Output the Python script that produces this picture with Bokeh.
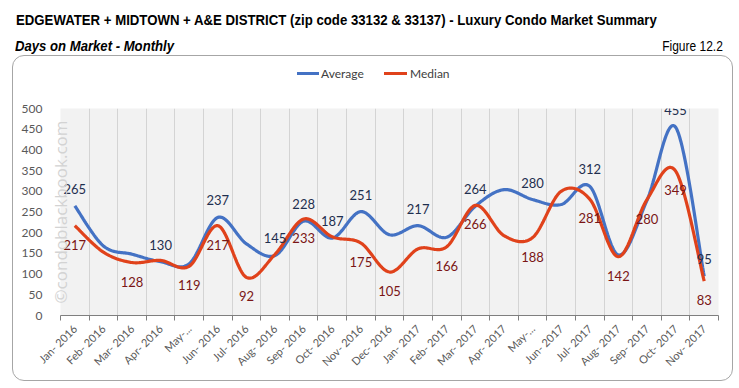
import numpy as np
from math import pi
from bokeh.plotting import figure
from bokeh.layouts import column
from bokeh.models import ColumnDataSource, FixedTicker, Range1d, Div
from bokeh.embed import file_html
from bokeh.resources import INLINE
from bokeh.core.properties import value

# ---------------- data ----------------
months = ["Jan- 2016", "Feb- 2016", "Mar- 2016", "Apr- 2016", "May-...", "Jun- 2016",
          "Jul- 2016", "Aug- 2016", "Sep- 2016", "Oct- 2016", "Nov- 2016", "Dec- 2016",
          "Jan- 2017", "Feb- 2017", "Mar- 2017", "Apr- 2017", "May-...", "Jun- 2017",
          "Jul- 2017", "Aug- 2017", "Sep- 2017", "Oct- 2017", "Nov- 2017"]
average = [265, 168, 148, 130, 125, 237, 173, 145, 228, 187, 251, 195,
           217, 189, 264, 304, 280, 268, 312, 146, 278, 455, 95]
median = [217, 153, 128, 133, 119, 217, 92, 148, 233, 190, 175, 105,
          161, 166, 266, 193, 188, 300, 281, 142, 280, 349, 83]
average_labeled = [0, 3, 5, 7, 8, 9, 10, 12, 14, 16, 18, 21, 22]
median_labeled = [0, 2, 4, 5, 6, 8, 10, 11, 13, 14, 16, 18, 19, 20, 21, 22]
y_ticks = [0, 50, 100, 150, 200, 250, 300, 350, 400, 450, 500]
series_names = ["Average", "Median"]

title = "EDGEWATER + MIDTOWN + A&amp;E DISTRICT (zip code 33132 &amp; 33137) - Luxury Condo Market Summary"
subtitle = "Days on Market - Monthly"
figure_no = "Figure 12.2"
watermark = "\u00a9condoblackbook.com"

BLUE = "#4472C4"
RED = "#E0421B"


def smooth(ys, n=24):
    """Excel-like smoothed line (cubic Bezier through every point)."""
    P = np.column_stack([np.arange(len(ys), dtype=float), np.array(ys, dtype=float)])
    xs, yv = [], []
    for i in range(len(P) - 1):
        p0 = P[i - 1] if i > 0 else P[i]
        p1, p2 = P[i], P[i + 1]
        p3 = P[i + 2] if i + 2 < len(P) else P[i + 1]
        c1 = p1 + (p2 - p0) / 6.0
        c2 = p2 - (p3 - p1) / 6.0
        t = np.linspace(0, 1, n, endpoint=(i == len(P) - 2))[:, None]
        b = ((1 - t) ** 3) * p1 + 3 * ((1 - t) ** 2) * t * c1 + 3 * (1 - t) * t ** 2 * c2 + t ** 3 * p2
        xs.extend(b[:, 0]); yv.extend(b[:, 1])
    return xs, yv


narrow = "font-family:'Liberation Sans',Arial,sans-serif;white-space:nowrap;position:absolute;"
header = Div(width=739, height=55, margin=0, text=f"""
<div style="position:relative;width:739px;height:55px;color:#000;">
  <div style="{narrow}left:16px;top:11px;font-size:15px;font-weight:bold;line-height:18px;transform:scaleX(0.88);transform-origin:0 50%;">{title}</div>
  <div style="{narrow}left:15px;top:37px;font-size:15px;font-weight:bold;font-style:italic;line-height:18px;transform:scaleX(0.875);transform-origin:0 50%;">{subtitle}</div>
  <div style="{narrow}right:16px;top:37px;font-size:15px;line-height:18px;transform:scaleX(0.8);transform-origin:100% 50%;">{figure_no}</div>
</div>""")

legend_div = Div(width=719, height=38, margin=0, text=f"""
<div style="position:relative;width:719px;height:38px;font-family:Lato,sans-serif;font-size:12px;color:#404040;">
  <div style="position:absolute;left:284px;top:16px;width:22px;height:3px;background:{BLUE};"></div>
  <div style="position:absolute;left:308px;top:10px;line-height:16px;white-space:nowrap;">{series_names[0]}</div>
  <div style="position:absolute;left:371px;top:16px;width:23px;height:3px;background:{RED};"></div>
  <div style="position:absolute;left:397px;top:10px;line-height:16px;white-space:nowrap;">{series_names[1]}</div>
</div>""")

n = len(months)
p = figure(width=719, height=286, output_backend="svg", toolbar_location=None,
           x_range=Range1d(-0.5, n - 0.5), y_range=Range1d(0, 500),
           min_border_left=47, min_border_right=14, min_border_top=14, min_border_bottom=65)
p.margin = 0
p.background_fill_color = "#F2F2F2"
p.border_fill_alpha = 0
p.outline_line_color = None

bounds = [i - 0.5 for i in range(n + 1)]
p.ygrid.visible = False
p.xgrid.ticker = FixedTicker(ticks=bounds)
p.xgrid.grid_line_color = "#D4D4D4"

p.yaxis.ticker = FixedTicker(ticks=y_ticks)
p.yaxis.axis_line_color = None
p.yaxis.major_tick_line_color = None
p.yaxis.minor_tick_line_color = None
p.yaxis.major_label_standoff = 12
p.yaxis.major_label_text_font = "Lato"
p.yaxis.major_label_text_font_size = "12px"
p.yaxis.major_label_text_color = "#595959"
# watermark drawn as the (faint) y-axis label
p.yaxis.axis_label = watermark
p.yaxis.axis_label_standoff = -53
p.yaxis.axis_label_text_font = "Open Sans"
p.yaxis.axis_label_text_font_style = "normal"
p.yaxis.axis_label_text_font_size = "17px"
p.yaxis.axis_label_text_color = "#D3D3D3"

p.xaxis.ticker = FixedTicker(ticks=list(range(n)), minor_ticks=bounds)
p.xaxis.major_label_overrides = {i: m for i, m in enumerate(months)}
p.xaxis.major_label_orientation = pi / 4
p.xaxis.major_tick_line_color = None
p.xaxis.minor_tick_line_color = "#7F7F7F"
p.xaxis.minor_tick_out = 5
p.xaxis.minor_tick_in = 0
p.xaxis.axis_line_color = "#7F7F7F"
p.xaxis.major_label_text_font = "Lato"
p.xaxis.major_label_text_font_size = "11px"
p.xaxis.major_label_text_color = "#595959"
p.xaxis.major_label_standoff = 5

ax, ay = smooth(average)
mx, my = smooth(median)
p.line(ax, ay, line_color=BLUE, line_width=3.2)
p.line(mx, my, line_color=RED, line_width=3.2)

src_a = ColumnDataSource(dict(x=average_labeled, y=[average[i] for i in average_labeled],
                              t=[str(average[i]) for i in average_labeled]))
src_m = ColumnDataSource(dict(x=median_labeled, y=[median[i] for i in median_labeled],
                              t=[str(median[i]) for i in median_labeled]))
p.text(x="x", y="y", text="t", source=src_a, y_offset=-17, text_align="center",
       text_baseline="middle", text_font=value("Lato"), text_font_size="13px", text_color="#1F2F4F")
p.text(x="x", y="y", text="t", source=src_m, y_offset=19, text_align="center",
       text_baseline="middle", text_font=value("Lato"), text_font_size="13px", text_color="#7A1515")

box = column(legend_div, p, spacing=0, margin=(0, 0, 0, 12),
             styles={"border": "1px solid #A6A6A6", "border-radius": "12px"})
layout = column(header, box, spacing=0, margin=0)
open("out.html", "w").write(file_html(layout, INLINE))
